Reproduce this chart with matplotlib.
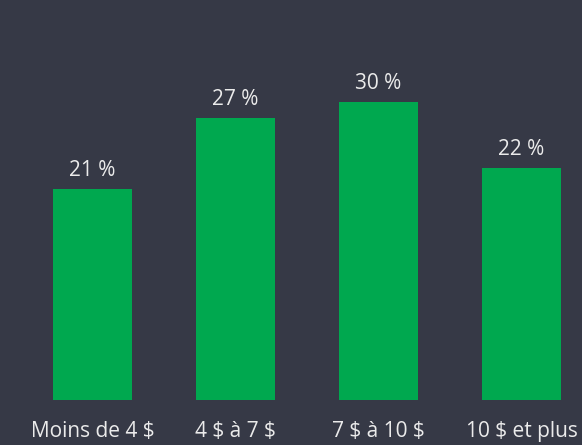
import matplotlib
matplotlib.use("Agg")
import matplotlib.pyplot as plt

categories = ["Moins de 4 $", "4 $ à 7 $", "7 $ à 10 $", "10 $ et plus"]
values = [21.1, 28.2, 29.8, 23.2]
labels = ["21 %", "27 %", "30 %", "22 %"]

BG = "#363946"
GREEN = "#00A84F"
TXT = "#ebebeb"

plt.rcParams['font.family'] = ['Open Sans', 'DejaVu Sans']
plt.rcParams['text.parse_math'] = False

W, H = 582, 445
fig = plt.figure(figsize=(W / 100, H / 100), dpi=100, facecolor=BG)
ax = fig.add_axes([0, 45 / H, 1, 400 / H])
ax.set_facecolor(BG)

x = list(range(len(categories)))
bars = ax.bar(x, values, width=79 / 143, color=GREEN)
ax.set_xlim(-92.5 / 143, (W - 92.5) / 143)
ax.set_ylim(0, 40)

for xi, v, lab in zip(x, values, labels):
    ax.annotate(lab, (xi, v), xytext=(0, 6), textcoords="offset points",
                ha="center", va="bottom", color=TXT, fontsize=15)

ax.set_xticks(x)
ax.set_xticklabels(categories, color=TXT, fontsize=15)
ax.tick_params(axis="x", length=0, pad=15)
ax.set_yticks([])
for s in ax.spines.values():
    s.set_visible(False)

fig.savefig("out.png", dpi=100, facecolor=BG)
